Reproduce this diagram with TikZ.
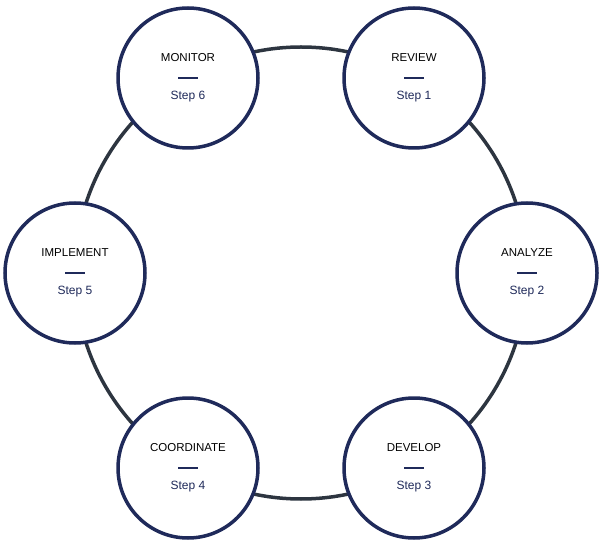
\documentclass[tikz,border=0pt]{standalone}
\usepackage{fontspec}
\setmainfont{Liberation Sans}
\usepackage{xcolor}
\usetikzlibrary{positioning}
\definecolor{navy}{HTML}{1F2A5A}
\definecolor{ring}{HTML}{2D3540}
\tikzset{stepc/.style={circle,draw=navy,line width=3.5pt,fill=white,minimum size=140pt,inner sep=0pt},
  stepnum/.style={text=navy,font=\fontsize{12}{14}\selectfont},
  stepname/.style={text=black,font=\fontsize{11.5}{14}\selectfont}}

\begin{document}
\begin{tikzpicture}[x=1pt,y=-1pt]
    \useasboundingbox (0,0) rectangle (605,545);
    \coordinate (o) at (301,273);
    \draw[ring,line width=3.5pt] (o) circle (226);

    \node[stepc] (s6) at (188,78) {};
    \node[stepc] (s1) at (414,78) {};
    \node[stepc] (s2) at (527,273) {};
    \node[stepc] (s3) at (414,468) {};
    \node[stepc] (s4) at (188,468) {};
    \node[stepc] (s5) at (75,273) {};

    \foreach \s/\n/\t in {s1/1/REVIEW,s2/2/ANALYZE,s3/3/DEVELOP,s4/4/COORDINATE,s5/5/IMPLEMENT,s6/6/MONITOR}{
        \node[stepnum] (\s n) at ([yshift=-19]\s.center) {Step \n};
        \node[stepname] (\s t) at ([yshift=20]\s.center) {\t};
        \draw[navy,line width=2.5pt] ([xshift=-10]\s.center) -- ([xshift=10]\s.center);
    }
\end{tikzpicture}
\end{document}
